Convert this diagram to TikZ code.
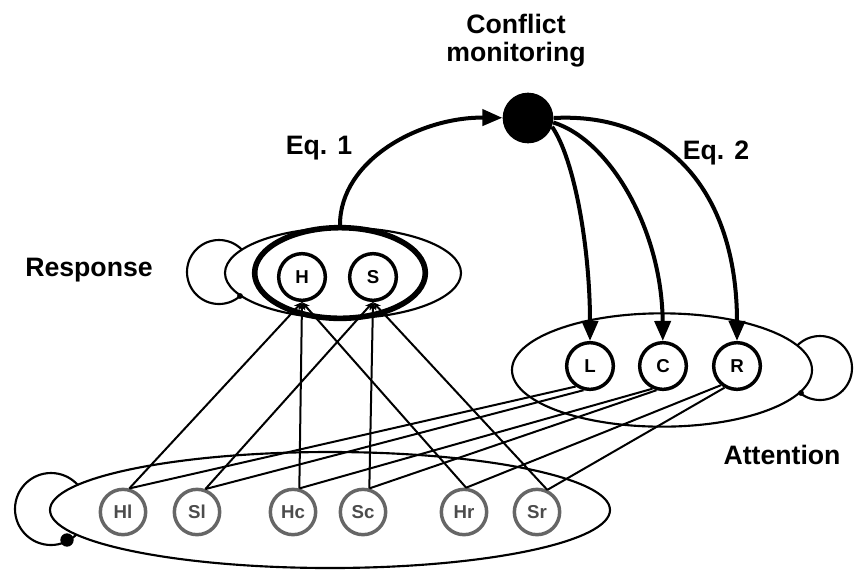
\documentclass[tikz,border=0pt]{standalone}
\usepackage{fontspec}
\setmainfont{Liberation Sans}
\usetikzlibrary{shapes.geometric,arrows.meta}
\begin{document}
\begin{tikzpicture}[x=0.75pt,y=-0.75pt,
  lbl/.style={font=\bfseries\fontsize{20}{21}\selectfont, align=center, inner sep=0pt},
  unit/.style={circle, draw, line width=2.6pt, fill=white, minimum size=35pt, inner sep=0pt,
    font=\bfseries\fontsize{14}{15}\selectfont},
  inunit/.style={unit, draw=black!60, text=black!70, line width=2.6pt, minimum size=34pt},
  grp/.style={ellipse, draw, line width=1.6pt, fill=white, inner sep=0pt},
  loopc/.style={line width=1.6pt},
  wire/.style={line width=1.5pt},
  upwire/.style={wire, -{Stealth[length=6pt,width=5pt]}},
  bigarrow/.style={line width=3pt, -{Triangle[length=15pt,width=12pt]}}
]
\fill[white] (0,0) rectangle (860,569);
\useasboundingbox (0,0) rectangle (860,569);

% self loops (drawn behind the white-filled ellipses)
\draw[loopc] (219,272) circle[radius=24pt];
\draw[loopc] (820,368) circle[radius=24pt];
\draw[loopc] (51,509) circle[radius=27pt];

% group ellipses
\node[grp, minimum width=420pt, minimum height=87pt] (inp) at (330,510) {};
\node[grp, minimum width=225pt, minimum height=85pt] (att) at (662,370) {};
\node[grp, minimum width=177pt, minimum height=68pt] (respo) at (343,273) {};
\node[grp, line width=4.2pt, minimum width=128pt, minimum height=68pt] (resp) at (340,273) {};

% loop ends
\fill (67,540) circle[radius=5pt];
\fill (240,296) circle[radius=2.2pt];
\fill (801,393) circle[radius=2.2pt];

% conflict monitoring unit
\node[circle, fill=black, minimum size=38pt, inner sep=0pt] (M) at (528,118) {};

% response units
\node[unit] (H) at (302,277) {H};
\node[unit] (S) at (373,277) {S};

% attention units
\node[unit] (L) at (590,366) {L};
\node[unit] (C) at (663,366) {C};
\node[unit] (R) at (737,366) {R};

% input units
\node[inunit] (Hl) at (123,512) {Hl};
\node[inunit] (Sl) at (197,512) {Sl};
\node[inunit] (Hc) at (293,512) {Hc};
\node[inunit] (Sc) at (363,512) {Sc};
\node[inunit] (Hr) at (464,512) {Hr};
\node[inunit] (Sr) at (537,512) {Sr};

% input -> response
\draw[upwire] (Hl.75) -- (H.south);
\draw[upwire] (Hc.75) -- (H.south);
\draw[upwire] (Hr.85) -- (H.south);
\draw[upwire] (Sl.70) -- (S.south);
\draw[upwire] (Sc.75) -- (S.south);
\draw[upwire] (Sr.65) -- (S.south);

% attention -> input
\draw[wire] (L.-125) -- (Hl.75);
\draw[wire] (L.-105) -- (Sl.70);
\draw[wire] (C.-115) -- (Hc.75);
\draw[wire] (C.-105) -- (Sc.75);
\draw[wire] (R.-130) -- (Hr.85);
\draw[wire] (R.-120) -- (Sr.65);

% conflict arrows
\draw[bigarrow] (resp.north) .. controls (340,160) and (420,117) .. (M);
\draw[bigarrow] (M.-20) .. controls (575,160) and (590,250) .. (L);
\draw[bigarrow] (M.-10) .. controls (610,140) and (662,230) .. (C);
\draw[bigarrow] (M.0) .. controls (665,112) and (737,190) .. (R);

% labels
\node[lbl] (tcm) at (516,41) {Conflict\\monitoring};
\node[lbl] (teq1) at (319,148) {Eq. 1};
\node[lbl] (teq2) at (716,153) {Eq. 2};
\node[lbl] (tresp) at (89,270) {Response};
\node[lbl] (tatt) at (782,455) {Attention};
\end{tikzpicture}
\end{document}
